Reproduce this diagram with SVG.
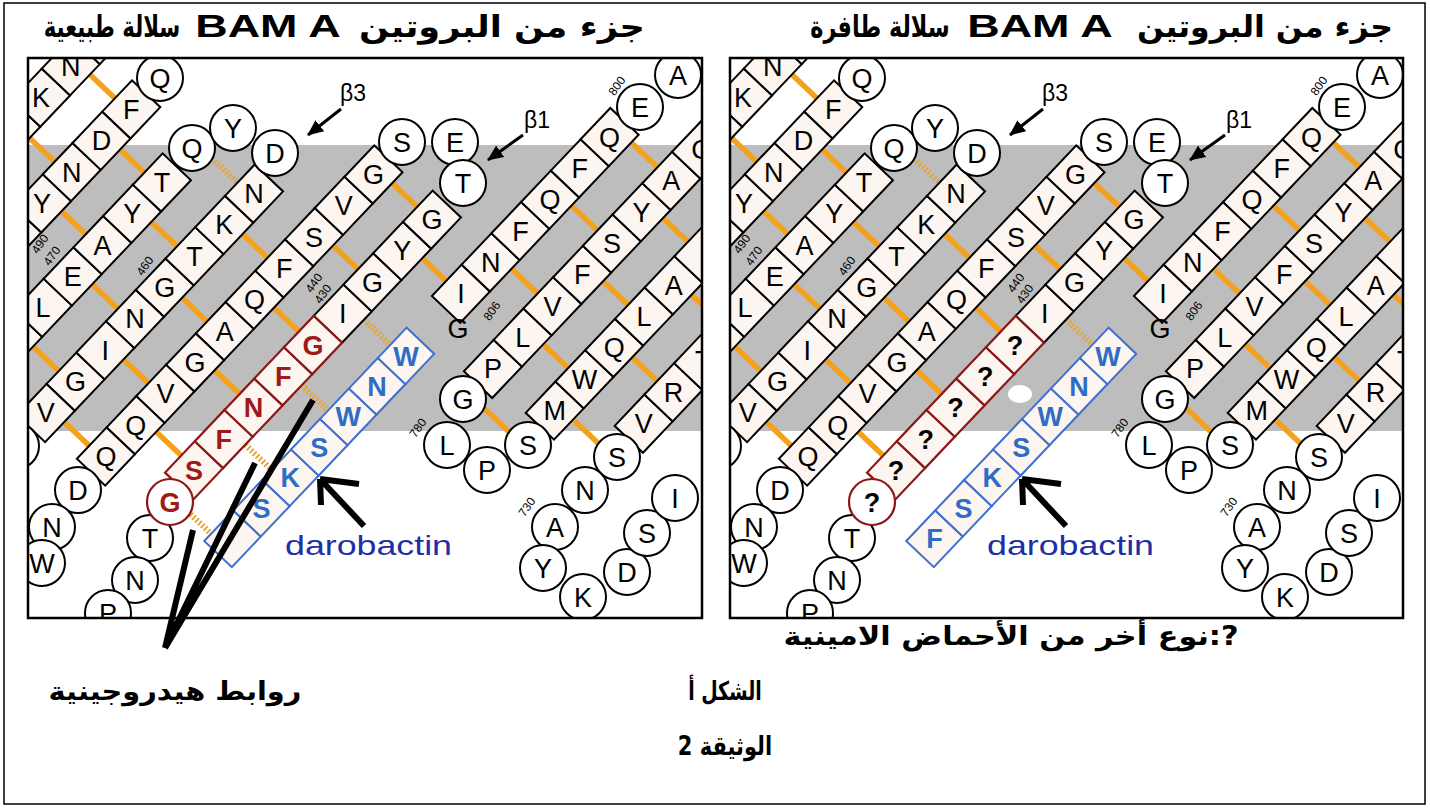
<svg xmlns="http://www.w3.org/2000/svg" width="1430" height="809" viewBox="0 0 1430 809">
<style>
.b{fill:#fdf5ef;stroke:#000;stroke-width:2}
.rb{fill:#fdf5ef;stroke:#8c1717;stroke-width:2.2}
.bb{fill:#fdf5ef;stroke:#3d6fd0;stroke-width:2}
.c{fill:#fff;stroke:#000;stroke-width:2}
.rc{fill:#fff;stroke:#8c1717;stroke-width:2.2}
.t{font-family:"Liberation Sans",Arial,sans-serif;font-size:27px;text-anchor:middle;fill:#000}
.rt{fill:#a01818;font-weight:bold}
.bt{fill:#2e6dc6;font-weight:bold}
.qt{font-weight:bold}
.hb{stroke:#f4a11e;stroke-width:5.5}
.hd{stroke:#e4a640;stroke-width:6;stroke-dasharray:2 2}
.n{font-family:"Liberation Sans",Arial,sans-serif;font-size:12px;text-anchor:middle;fill:#000}
.ar{font-family:"DejaVu Sans",sans-serif;font-weight:bold;fill:#000;text-anchor:middle}
.la{font-family:"Liberation Sans",Arial,sans-serif;font-weight:bold;fill:#000;text-anchor:middle}
.pn{fill:none;stroke:#000;stroke-width:2.5}
.bk{stroke:#000;stroke-width:6;fill:none}
.ba{stroke:#000;stroke-width:3}
.dr{font-family:"Liberation Sans",Arial,sans-serif;font-size:28px;fill:#1f2fa6}
.be{font-family:"Liberation Sans",Arial,sans-serif;font-size:23px;fill:#000}
</style>
<defs>
<rect id="bx" x="-21.6" y="-19.5" width="43.2" height="39"/>
<rect id="bxb" x="-21" y="-19" width="42" height="38"/>
<clipPath id="cl"><rect x="28" y="58" width="674" height="560"/></clipPath>
<clipPath id="cr"><rect x="730" y="58" width="673" height="560"/></clipPath>
<marker id="ah" markerUnits="userSpaceOnUse" markerWidth="16" markerHeight="14" viewBox="0 0 16 14" refX="15" refY="7" orient="auto"><path d="M0,0 L16,7 L0,14 z" fill="#000"/></marker>
<g id="common">
 <rect x="0" y="145" width="1430" height="286" fill="#bdbdbd"/>
 <g transform="translate(313,345) rotate(-46.5)">
  <g class="hb">
   <line x1="42.6" y1="-348" x2="42.6" y2="-313.5"/><line x1="-45" y1="-348" x2="-45" y2="-313.5"/>
   <line x1="9" y1="-274.5" x2="9" y2="-241"/><line x1="-76" y1="-274.5" x2="-76" y2="-241"/>
   <line x1="-22" y1="-202" x2="-22" y2="-166.5"/><line x1="-108" y1="-202" x2="-108" y2="-166.5"/><line x1="-194" y1="-202" x2="-194" y2="-166.5"/>
   <line x1="32" y1="-127.5" x2="32" y2="-93"/><line x1="-56" y1="-127.5" x2="-56" y2="-93"/><line x1="-141" y1="-127.5" x2="-141" y2="-93"/><line x1="-227" y1="-127.5" x2="-227" y2="-93"/>
   <line x1="172" y1="-54" x2="172" y2="-19.5"/><line x1="86" y1="-54" x2="86" y2="-19.5"/><line x1="0" y1="-54" x2="0" y2="-19.5"/><line x1="-86" y1="-54" x2="-86" y2="-19.5"/><line x1="-171" y1="-54" x2="-171" y2="-19.5"/>
   <line x1="138" y1="19.5" x2="138" y2="52.5"/>
   <line x1="366" y1="91.5" x2="366" y2="127.5"/><line x1="279" y1="91.5" x2="279" y2="127.5"/><line x1="192" y1="91.5" x2="192" y2="127.5"/>
   <line x1="333" y1="166.5" x2="333" y2="201"/><line x1="246" y1="166.5" x2="246" y2="201"/><line x1="159" y1="166.5" x2="159" y2="201"/><line x1="72" y1="166.5" x2="72" y2="201"/>
   <line x1="297" y1="240" x2="297" y2="274.5"/><line x1="211" y1="240" x2="211" y2="274.5"/><line x1="125" y1="240" x2="125" y2="274.5"/>
  </g>
  <g class="hd">
   <line x1="66" y1="-202" x2="66" y2="-166.5"/>
   <line x1="53.5" y1="19.5" x2="53.5" y2="56"/>
  </g>
  <g id="strands" class="b">
   <use href="#bx" x="-51" y="-367.5"/><use href="#bx" x="-7.8" y="-367.5"/><use href="#bx" x="35.4" y="-367.5"/><use href="#bx" x="78.6" y="-367.5"/>
   <use href="#bx" x="-127" y="-294"/><use href="#bx" x="-83.8" y="-294"/><use href="#bx" x="-40.6" y="-294"/><use href="#bx" x="2.6" y="-294"/><use href="#bx" x="45.8" y="-294"/>
   <use href="#bx" x="-202.1" y="-221.5"/><use href="#bx" x="-158.9" y="-221.5"/><use href="#bx" x="-115.7" y="-221.5"/><use href="#bx" x="-72.5" y="-221.5"/><use href="#bx" x="-29.3" y="-221.5"/><use href="#bx" x="13.9" y="-221.5"/>
   <use href="#bx" x="-233.2" y="-147"/><use href="#bx" x="-190" y="-147"/><use href="#bx" x="-146.8" y="-147"/><use href="#bx" x="-103.6" y="-147"/><use href="#bx" x="-60.4" y="-147"/><use href="#bx" x="-17.2" y="-147"/><use href="#bx" x="26" y="-147"/><use href="#bx" x="69.2" y="-147"/>
   <use href="#bx" x="-223.4" y="-73.5"/><use href="#bx" x="-180.2" y="-73.5"/><use href="#bx" x="-137" y="-73.5"/><use href="#bx" x="-93.8" y="-73.5"/><use href="#bx" x="-50.6" y="-73.5"/><use href="#bx" x="-7.4" y="-73.5"/><use href="#bx" x="35.8" y="-73.5"/><use href="#bx" x="79" y="-73.5"/><use href="#bx" x="122.2" y="-73.5"/><use href="#bx" x="165.4" y="-73.5"/>
   <use href="#bx" x="43.2" y="0"/><use href="#bx" x="86.4" y="0"/><use href="#bx" x="129.6" y="0"/><use href="#bx" x="172.8" y="0"/>
   <use href="#bx" x="139" y="72"/><use href="#bx" x="182.2" y="72"/><use href="#bx" x="225.4" y="72"/><use href="#bx" x="268.6" y="72"/><use href="#bx" x="311.8" y="72"/><use href="#bx" x="355" y="72"/>
   <use href="#bx" x="106.5" y="147"/><use href="#bx" x="149.7" y="147"/><use href="#bx" x="192.9" y="147"/><use href="#bx" x="236.1" y="147"/><use href="#bx" x="279.3" y="147"/><use href="#bx" x="322.5" y="147"/><use href="#bx" x="365.7" y="147"/><use href="#bx" x="408.9" y="147"/>
   <use href="#bx" x="118.8" y="220.5"/><use href="#bx" x="162" y="220.5"/><use href="#bx" x="205.2" y="220.5"/><use href="#bx" x="248.4" y="220.5"/><use href="#bx" x="291.6" y="220.5"/><use href="#bx" x="334.8" y="220.5"/>
   <use href="#bx" x="170.6" y="294"/><use href="#bx" x="213.8" y="294"/><use href="#bx" x="257" y="294"/>
  </g>
  <g class="t">
   <text transform="translate(-7.8 -367.5) rotate(46.5)" y="9.5">K</text><text transform="translate(35.4 -367.5) rotate(46.5)" y="9.5">N</text>
   <text transform="translate(-83.8 -294) rotate(46.5)" y="9.5">Y</text><text transform="translate(-40.6 -294) rotate(46.5)" y="9.5">N</text><text transform="translate(2.6 -294) rotate(46.5)" y="9.5">D</text><text transform="translate(45.8 -294) rotate(46.5)" y="9.5">F</text>
   <text transform="translate(-158.9 -221.5) rotate(46.5)" y="9.5">L</text><text transform="translate(-115.7 -221.5) rotate(46.5)" y="9.5">E</text><text transform="translate(-72.5 -221.5) rotate(46.5)" y="9.5">A</text><text transform="translate(-29.3 -221.5) rotate(46.5)" y="9.5">Y</text><text transform="translate(13.9 -221.5) rotate(46.5)" y="9.5">T</text>
   <text transform="translate(-233.2 -147) rotate(46.5)" y="9.5">V</text><text transform="translate(-190 -147) rotate(46.5)" y="9.5">G</text><text transform="translate(-146.8 -147) rotate(46.5)" y="9.5">I</text><text transform="translate(-103.6 -147) rotate(46.5)" y="9.5">N</text><text transform="translate(-60.4 -147) rotate(46.5)" y="9.5">G</text><text transform="translate(-17.2 -147) rotate(46.5)" y="9.5">T</text><text transform="translate(26 -147) rotate(46.5)" y="9.5">K</text><text transform="translate(69.2 -147) rotate(46.5)" y="9.5">N</text>
   <text transform="translate(-223.4 -73.5) rotate(46.5)" y="9.5">Q</text><text transform="translate(-180.2 -73.5) rotate(46.5)" y="9.5">Q</text><text transform="translate(-137 -73.5) rotate(46.5)" y="9.5">V</text><text transform="translate(-93.8 -73.5) rotate(46.5)" y="9.5">G</text><text transform="translate(-50.6 -73.5) rotate(46.5)" y="9.5">A</text><text transform="translate(-7.4 -73.5) rotate(46.5)" y="9.5">Q</text><text transform="translate(35.8 -73.5) rotate(46.5)" y="9.5">F</text><text transform="translate(79 -73.5) rotate(46.5)" y="9.5">S</text><text transform="translate(122.2 -73.5) rotate(46.5)" y="9.5">V</text><text transform="translate(165.4 -73.5) rotate(46.5)" y="9.5">G</text>
   <text transform="translate(43.2 0) rotate(46.5)" y="9.5">I</text><text transform="translate(86.4 0) rotate(46.5)" y="9.5">G</text><text transform="translate(129.6 0) rotate(46.5)" y="9.5">Y</text><text transform="translate(172.8 0) rotate(46.5)" y="9.5">G</text>
   <text transform="translate(139 72) rotate(46.5)" y="9.5">I</text><text transform="translate(182.2 72) rotate(46.5)" y="9.5">N</text><text transform="translate(225.4 72) rotate(46.5)" y="9.5">F</text><text transform="translate(268.6 72) rotate(46.5)" y="9.5">Q</text><text transform="translate(311.8 72) rotate(46.5)" y="9.5">F</text><text transform="translate(355 72) rotate(46.5)" y="9.5">Q</text>
   <text transform="translate(106.5 147) rotate(46.5)" y="9.5">P</text><text transform="translate(149.7 147) rotate(46.5)" y="9.5">L</text><text transform="translate(192.9 147) rotate(46.5)" y="9.5">V</text><text transform="translate(236.1 147) rotate(46.5)" y="9.5">F</text><text transform="translate(279.3 147) rotate(46.5)" y="9.5">S</text><text transform="translate(322.5 147) rotate(46.5)" y="9.5">Y</text><text transform="translate(365.7 147) rotate(46.5)" y="9.5">A</text><text transform="translate(408.9 147) rotate(46.5)" y="9.5">C</text>
   <text transform="translate(118.8 220.5) rotate(46.5)" y="9.5">M</text><text transform="translate(162 220.5) rotate(46.5)" y="9.5">W</text><text transform="translate(205.2 220.5) rotate(46.5)" y="9.5">Q</text><text transform="translate(248.4 220.5) rotate(46.5)" y="9.5">L</text><text transform="translate(291.6 220.5) rotate(46.5)" y="9.5">A</text>
   <text transform="translate(170.6 294) rotate(46.5)" y="9.5">V</text><text transform="translate(213.8 294) rotate(46.5)" y="9.5">R</text><text transform="translate(257 294) rotate(46.5)" y="9.5">T</text>
  </g>
 </g>
 <g id="loops">
  <g class="c">
   <circle cx="160" cy="78" r="23"/><circle cx="192" cy="148" r="23"/><circle cx="233" cy="128" r="23"/><circle cx="275" cy="153" r="23"/>
   <circle cx="402" cy="142" r="23"/><circle cx="455" cy="142" r="23"/><circle cx="463" cy="183" r="23"/>
   <circle cx="640" cy="107" r="23"/><circle cx="678" cy="75" r="23"/>
   <circle cx="16" cy="446" r="23"/><circle cx="78" cy="490" r="23"/><circle cx="52" cy="527" r="23"/><circle cx="42" cy="563" r="23"/>
   <circle cx="150" cy="538" r="23"/><circle cx="135" cy="580" r="23"/><circle cx="108" cy="613" r="23"/>
   <circle cx="463" cy="399" r="23"/><circle cx="447" cy="445" r="23"/><circle cx="487" cy="470" r="23"/><circle cx="528" cy="445" r="23"/>
   <circle cx="617" cy="457" r="23"/><circle cx="585" cy="490" r="23"/><circle cx="555" cy="527" r="23"/><circle cx="543" cy="568" r="23"/><circle cx="583" cy="597" r="23"/><circle cx="627" cy="572" r="23"/><circle cx="647" cy="533" r="23"/><circle cx="675" cy="498" r="23"/>
  </g>
  <g class="t">
   <text x="160" y="87.5">Q</text><text x="192" y="157.5">Q</text><text x="233" y="137.5">Y</text><text x="275" y="162.5">D</text>
   <text x="402" y="151.5">S</text><text x="455" y="151.5">E</text><text x="463" y="192.5">T</text>
   <text x="640" y="116.5">E</text><text x="678" y="84.5">A</text>
   <text x="78" y="499.5">D</text><text x="52" y="536.5">N</text><text x="42" y="572.5">W</text>
   <text x="150" y="547.5">T</text><text x="135" y="589.5">N</text><text x="108" y="622.5">P</text>
   <text x="463" y="408.5">G</text><text x="447" y="454.5">L</text><text x="487" y="479.5">P</text><text x="528" y="454.5">S</text>
   <text x="617" y="466.5">S</text><text x="585" y="499.5">N</text><text x="555" y="536.5">A</text><text x="543" y="577.5">Y</text><text x="583" y="606.5">K</text><text x="627" y="581.5">D</text><text x="647" y="542.5">S</text><text x="675" y="507.5">I</text>
   <text x="458" y="338">G</text>
  </g>
 </g>
 <g id="numbers" class="n">
  <text transform="translate(40 244) rotate(-55)" y="4">490</text>
  <text transform="translate(52 256) rotate(-55)" y="4">470</text>
  <text transform="translate(145 266) rotate(-55)" y="4">460</text>
  <text transform="translate(314 283) rotate(-55)" y="4">440</text>
  <text transform="translate(323 294) rotate(-55)" y="4">430</text>
  <text transform="translate(492 311) rotate(-55)" y="4">806</text>
  <text transform="translate(617 86) rotate(-55)" y="4">800</text>
  <text transform="translate(418 428) rotate(-55)" y="4">780</text>
  <text transform="translate(527 507) rotate(-55)" y="4">730</text>
 </g>
 <g id="beta">
  <text class="be" x="340" y="101">β3</text>
  <line class="ba" x1="341" y1="109" x2="308" y2="135" marker-end="url(#ah)"/>
  <text class="be" x="524" y="128">β1</text>
  <line class="ba" x1="523" y1="135" x2="488" y2="160" marker-end="url(#ah)"/>
 </g>
 <g id="daro">
  <text class="dr" x="285" y="555" textLength="167" lengthAdjust="spacingAndGlyphs">darobactin</text>
  <path class="bk" d="M364,526 L320,479 M320,479 L359,484 M320,479 L321,505"/>
 </g>
</g>
</defs>

<rect x="4" y="3" width="1421" height="801" fill="#fff" stroke="#000" stroke-width="1.5"/>

<g id="panel-wild" clip-path="url(#cl)">
 <use href="#common"/>
 <g transform="translate(313,345) rotate(-46.5)">
  <g class="hd">
   <line x1="-37" y1="19.5" x2="-37" y2="56"/><line x1="-119" y1="19.5" x2="-119" y2="56"/><line x1="-207" y1="19.5" x2="-207" y2="56"/>
  </g>
  <g id="red-strand-wild" class="rb">
   <use href="#bx" x="-172.8" y="0"/><use href="#bx" x="-129.6" y="0"/><use href="#bx" x="-86.4" y="0"/><use href="#bx" x="-43.2" y="0"/><use href="#bx" x="0" y="0"/>
  </g>
  <g class="t rt">
   <text transform="translate(-172.8 0) rotate(46.5)" y="9.5">S</text><text transform="translate(-129.6 0) rotate(46.5)" y="9.5">F</text><text transform="translate(-86.4 0) rotate(46.5)" y="9.5">N</text><text transform="translate(-43.2 0) rotate(46.5)" y="9.5">F</text><text transform="translate(0 0) rotate(46.5)" y="9.5">G</text>
  </g>
  <g id="darobactin-wild" class="bb">
   <use href="#bxb" x="56" y="75"/><use href="#bxb" x="14" y="75"/><use href="#bxb" x="-28" y="75"/><use href="#bxb" x="-70" y="75"/><use href="#bxb" x="-112" y="75"/><use href="#bxb" x="-154" y="75"/><use href="#bxb" x="-196" y="75"/>
  </g>
  <g class="t bt">
   <text transform="translate(56 75) rotate(46.5)" y="9.5">W</text><text transform="translate(14 75) rotate(46.5)" y="9.5">N</text><text transform="translate(-28 75) rotate(46.5)" y="9.5">W</text><text transform="translate(-70 75) rotate(46.5)" y="9.5">S</text><text transform="translate(-112 75) rotate(46.5)" y="9.5">K</text><text transform="translate(-154 75) rotate(46.5)" y="9.5">S</text>
  </g>
 </g>
 <circle class="rc" cx="170" cy="502" r="23"/>
 <text class="t rt" x="170" y="511.5">G</text>
</g>
<rect class="pn" x="28" y="58" width="674" height="560"/>

<g id="hbond-pointers">
 <path class="bk" d="M165,648 L193,530 M165,648 L255,463 M165,648 L313,400"/>
</g>

<g id="panel-mutant" clip-path="url(#cr)">
 <use href="#common" x="702"/>
 <g transform="translate(1015,345) rotate(-46.5)">
  <g id="red-strand-mutant" class="rb">
   <use href="#bx" x="-172.8" y="0"/><use href="#bx" x="-129.6" y="0"/><use href="#bx" x="-86.4" y="0"/><use href="#bx" x="-43.2" y="0"/><use href="#bx" x="0" y="0"/>
  </g>
  <g class="t qt">
   <text transform="translate(-172.8 0) rotate(46.5)" y="9.5">?</text><text transform="translate(-129.6 0) rotate(46.5)" y="9.5">?</text><text transform="translate(-86.4 0) rotate(46.5)" y="9.5">?</text><text transform="translate(-43.2 0) rotate(46.5)" y="9.5">?</text><text transform="translate(0 0) rotate(46.5)" y="9.5">?</text>
  </g>
  <g id="darobactin-mutant" class="bb">
   <use href="#bxb" x="56" y="75"/><use href="#bxb" x="14" y="75"/><use href="#bxb" x="-28" y="75"/><use href="#bxb" x="-70" y="75"/><use href="#bxb" x="-112" y="75"/><use href="#bxb" x="-154" y="75"/><use href="#bxb" x="-196" y="75"/>
  </g>
  <g class="t bt">
   <text transform="translate(56 75) rotate(46.5)" y="9.5">W</text><text transform="translate(14 75) rotate(46.5)" y="9.5">N</text><text transform="translate(-28 75) rotate(46.5)" y="9.5">W</text><text transform="translate(-70 75) rotate(46.5)" y="9.5">S</text><text transform="translate(-112 75) rotate(46.5)" y="9.5">K</text><text transform="translate(-154 75) rotate(46.5)" y="9.5">S</text><text transform="translate(-196 75) rotate(46.5)" y="9.5">F</text>
  </g>
 </g>
 <circle class="rc" cx="872" cy="502" r="23"/>
 <text class="t qt" x="872" y="511.5">?</text>
 <ellipse cx="1020" cy="394" rx="12" ry="9" fill="#fff"/>
</g>
<rect class="pn" x="730" y="58" width="673" height="560"/>

<g id="titles">
 <text class="ar" transform="translate(502,37) scale(1.173,1)" font-size="30" direction="rtl">جزء من البروتين</text>
 <text class="la" transform="translate(268,37) scale(1.45,1)" font-size="31">BAM A</text>
 <text class="ar" transform="translate(112,37) scale(0.711,1)" font-size="30" direction="rtl">سلالة طبيعية</text>
 <text class="ar" transform="translate(1265,37) scale(1.05,1)" font-size="30" direction="rtl">جزء من البروتين</text>
 <text class="la" transform="translate(1040,37) scale(1.45,1)" font-size="31">BAM A</text>
 <text class="ar" transform="translate(880,37) scale(0.743,1)" font-size="30" direction="rtl">سلالة طافرة</text>
</g>
<g id="captions">
 <text class="ar" transform="translate(175,700) scale(1.11,1)" font-size="26" direction="rtl">روابط هيدروجينية</text>
 <text class="ar" transform="translate(725,700) scale(0.727,1)" font-size="26" direction="rtl">الشكل أ</text>
 <text class="ar" transform="translate(725,755) scale(0.807,1)" font-size="26" direction="rtl">الوثيقة 2</text>
 <text class="ar" transform="translate(1011,645) scale(1.168,1)" font-size="26" direction="rtl">?:نوع أخر من الأحماض الامينية</text>
</g>
</svg>
